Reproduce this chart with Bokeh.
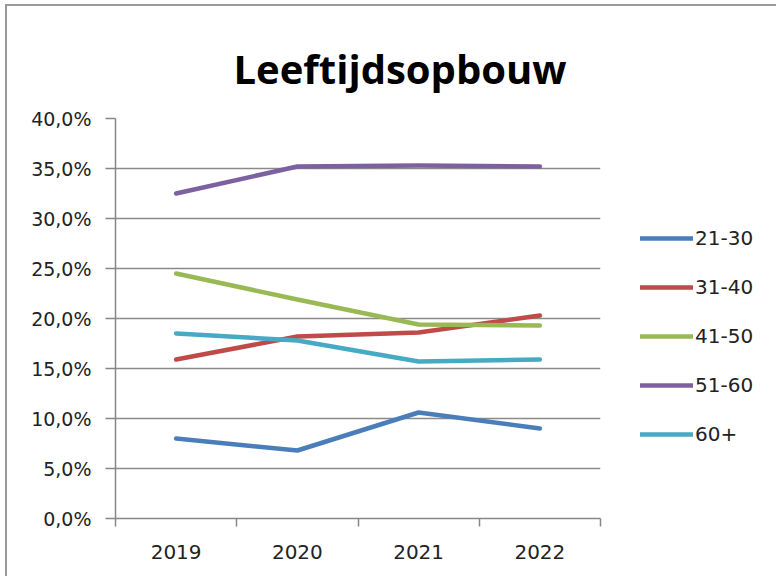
from bokeh.plotting import figure
from bokeh.models import FixedTicker, Legend, LegendItem, Range1d
from bokeh.embed import file_html
from bokeh.resources import INLINE

years = ["2019", "2020", "2021", "2022"]
series_names = ["21-30", "31-40", "41-50", "51-60", "60+"]
v_21_30 = [8.0, 6.8, 10.6, 9.0]
v_31_40 = [15.9, 18.2, 18.6, 20.3]
v_41_50 = [24.5, 21.9, 19.4, 19.3]
v_51_60 = [32.5, 35.2, 35.3, 35.2]
v_60p = [18.5, 17.8, 15.7, 15.9]
colors = ["#4A7EBB", "#BE4B48", "#98B954", "#7D60A0", "#46AAC5"]
y_ticks = [0, 5, 10, 15, 20, 25, 30, 35, 40]

p = figure(frame_width=485, frame_height=400, output_backend="svg", toolbar_location=None,
           x_range=Range1d(0, len(years)), y_range=Range1d(0, 40),
           min_border_left=108, min_border_top=112, min_border_right=10,
           min_border_bottom=58)
p.styles = {"margin-left": "5px", "margin-top": "4px",
            "border-left": "2px solid #9a9a9a", "border-top": "2px solid #9a9a9a"}
p.outline_line_color = None
p.background_fill_color = "white"
p.border_fill_color = "white"

p.title.text = "Leeftijdsopbouw"
p.title.align = "left"
p.title.vertical_align = "top"
p.title.offset = 118
p.title.standoff = 42
p.title.text_font = "Open Sans"
p.title.text_font_style = "bold"
p.title.text_font_size = "40px"
p.title.text_color = "black"

xc = [i + 0.5 for i in range(len(years))]
axfont = "DejaVu Sans"

# x axis: labels at centers, ticks at boundaries
p.xaxis.ticker = FixedTicker(ticks=xc, minor_ticks=list(range(len(years) + 1)))
p.xaxis.major_label_overrides = {x: y for x, y in zip(xc, years)}
p.xaxis.major_tick_out = 0
p.xaxis.major_tick_in = 0
p.xaxis.minor_tick_out = 8
p.xaxis.minor_tick_in = 0
p.xaxis.minor_tick_line_color = "#868686"
p.xaxis.minor_tick_line_width = 1.5
p.xaxis.major_label_standoff = 18
p.xaxis.major_label_text_font = axfont
p.xaxis.major_label_text_font_size = "20px"
p.xaxis.major_label_text_color = "#222222"
p.xaxis.axis_line_color = "#868686"
p.xaxis.axis_line_width = 1.5

p.yaxis.ticker = FixedTicker(ticks=y_ticks, minor_ticks=[])
p.yaxis.major_label_overrides = {t: f"{t:.1f}".replace(".", ",") + "%" for t in y_ticks}
p.yaxis.major_tick_out = 10
p.yaxis.major_tick_in = 0
p.yaxis.major_tick_line_color = "#868686"
p.yaxis.major_tick_line_width = 1.5
p.yaxis.major_label_standoff = 14
p.yaxis.major_label_text_font = axfont
p.yaxis.major_label_text_font_size = "19px"
p.yaxis.major_label_text_color = "#222222"
p.yaxis.axis_line_color = "#868686"
p.yaxis.axis_line_width = 1.5

p.xgrid.grid_line_color = None
p.ygrid.grid_line_color = "#8a8a8a"
p.ygrid.grid_line_width = 1.5

all_vals = [v_21_30, v_31_40, v_41_50, v_51_60, v_60p]
items = []
for name, vals, c in zip(series_names, all_vals, colors):
    r = p.line(xc, vals, line_color=c, line_width=4.5, line_join="round", line_cap="round")
    items.append(LegendItem(label=name, renderers=[r]))

legend = Legend(items=items, location=(40, 72), glyph_width=53, glyph_height=24,
                label_height=24, label_standoff=2, spacing=25, padding=0, margin=0,
                border_line_color=None, background_fill_alpha=0,
                label_text_font=axfont, label_text_font_size="20px",
                label_text_color="#222222")
p.add_layout(legend, "right")

open("out.html", "w").write(file_html(p, INLINE))
